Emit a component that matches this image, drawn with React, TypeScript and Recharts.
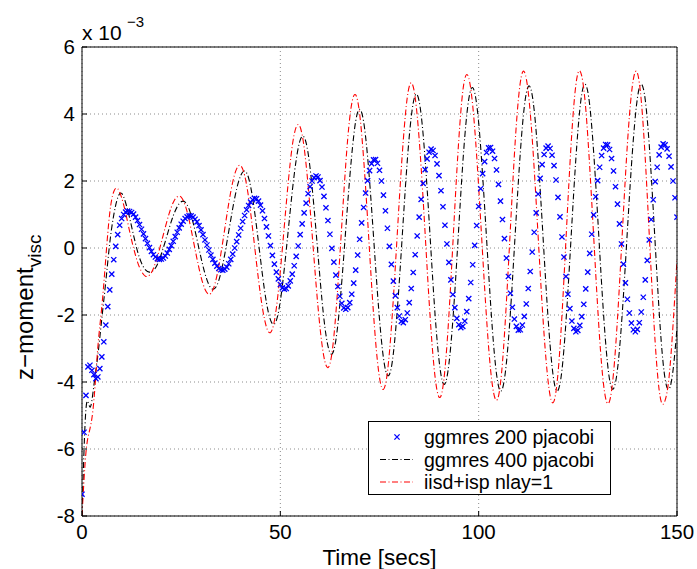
import React from "react";
import { ComposedChart, Line, XAxis, YAxis, CartesianGrid } from "recharts";

// all values are in units of 1e-3 (the axis carries the "x 10^-3" factor)
const xTicks = [0, 50, 100, 150];
const yTicks = [-8, -6, -4, -2, 0, 2, 4, 6];
const seriesNames = ["ggmres 200 pjacobi", "ggmres 400 pjacobi", "iisd+isp nlay=1"];

// ggmres 200 pjacobi, one sample every 0.5 s from t = 0
const blueStep = 0.5;
const blueValues = [
    -7.35, -5.5, -4.4, -3.55, -3.5, -3.65, -3.78, -3.9, -3.85, -3.6, -3.25, -2.8, -2.3, -1.75, -1.25, -0.78, -0.35, 0.05, 0.4, 0.68,
    0.88, 1.0, 1.07, 1.1, 1.09, 1.06, 1.01, 0.92, 0.82, 0.7, 0.56, 0.42, 0.28, 0.14, 0.01, -0.1, -0.2, -0.27, -0.32, -0.34,
    -0.33, -0.3, -0.24, -0.15, -0.04, 0.07, 0.2, 0.34, 0.47, 0.6, 0.71, 0.8, 0.88, 0.93, 0.96, 0.96, 0.92, 0.86, 0.78, 0.67,
    0.54, 0.4, 0.24, 0.09, -0.06, -0.21, -0.34, -0.45, -0.54, -0.61, -0.65, -0.66, -0.63, -0.57, -0.47, -0.34, -0.18, 0.0, 0.19, 0.39,
    0.59, 0.79, 0.97, 1.14, 1.27, 1.37, 1.44, 1.48, 1.47, 1.4, 1.28, 1.11, 0.88, 0.63, 0.36, 0.07, -0.22, -0.48, -0.72, -0.92,
    -1.09, -1.19, -1.23, -1.21, -1.13, -0.98, -0.78, -0.53, -0.25, 0.06, 0.4, 0.72, 1.05, 1.34, 1.62, 1.83, 2.0, 2.1, 2.15, 2.12,
    2.01, 1.82, 1.54, 1.2, 0.82, 0.41, -0.01, -0.42, -0.81, -1.15, -1.44, -1.65, -1.79, -1.83, -1.78, -1.63, -1.38, -1.05, -0.66, -0.21,
    0.26, 0.75, 1.21, 1.64, 2.01, 2.31, 2.52, 2.63, 2.64, 2.53, 2.32, 2.0, 1.58, 1.11, 0.59, 0.05, -0.49, -0.99, -1.42, -1.78,
    -2.03, -2.19, -2.23, -2.14, -1.94, -1.63, -1.21, -0.73, -0.2, 0.36, 0.92, 1.45, 1.93, 2.34, 2.66, 2.86, 2.95, 2.91, 2.76, 2.51,
    2.16, 1.71, 1.23, 0.68, 0.12, -0.43, -0.95, -1.39, -1.78, -2.1, -2.29, -2.38, -2.34, -2.18, -1.9, -1.51, -1.03, -0.5, 0.08, 0.67,
    1.24, 1.77, 2.22, 2.58, 2.85, 2.99, 3.0, 2.89, 2.67, 2.33, 1.9, 1.4, 0.85, 0.28, -0.3, -0.85, -1.35, -1.77, -2.12, -2.34,
    -2.45, -2.44, -2.3, -2.04, -1.67, -1.21, -0.7, -0.12, 0.47, 1.05, 1.61, 2.08, 2.49, 2.79, 2.98, 3.04, 2.97, 2.77, 2.46, 2.03,
    1.51, 0.93, 0.33, -0.27, -0.85, -1.38, -1.81, -2.18, -2.4, -2.5, -2.46, -2.31, -2.05, -1.68, -1.22, -0.72, -0.16, 0.41, 0.99, 1.53,
    2.01, 2.41, 2.76, 2.98, 3.09, 3.08, 2.94, 2.67, 2.3, 1.83, 1.31, 0.72, 0.12, -0.48, -1.04, -1.53, -1.94, -2.24, -2.44, -2.5,
    -2.43, -2.23, -1.91, -1.47, -0.95, -0.37, 0.24, 0.85, 1.44, 1.98, 2.41, 2.78, 3.01, 3.11, 3.08, 2.96, 2.74, 2.42, 2.0, 1.5,
    0.92,
];

// the two line series, one sample every second from t = 0
const lineStep = 1;
const blackValues = [
    -8.0, -4.8, -4.75, -4.1, -3.2, -2.1, -1.0, 0.15, 0.98, 1.5,
    1.63, 1.35, 0.9, 0.38, -0.1, -0.45, -0.65, -0.72, -0.67, -0.49,
    -0.18, 0.2, 0.6, 0.96, 1.23, 1.38, 1.37, 1.16, 0.76, 0.25,
    -0.29, -0.76, -1.1, -1.23, -1.12, -0.75, -0.18, 0.5, 1.18, 1.77,
    2.16, 2.3, 2.09, 1.5, 0.64, -0.33, -1.25, -1.93, -2.26, -2.16,
    -1.58, -0.62, 0.53, 1.68, 2.63, 3.22, 3.31, 2.83, 1.83, 0.51,
    -0.9, -2.13, -2.92, -3.17, -2.75, -1.69, -0.23, 1.36, 2.77, 3.79,
    4.14, 3.77, 2.72, 1.19, -0.53, -2.12, -3.29, -3.8, -3.56, -2.55,
    -0.99, 0.85, 2.6, 3.91, 4.56, 4.38, 3.39, 1.78, -0.13, -1.97,
    -3.34, -4.03, -3.86, -2.88, -1.28, 0.65, 2.53, 3.97, 4.72, 4.64,
    3.74, 2.16, 0.26, -1.65, -3.21, -4.12, -4.2, -3.42, -1.93, 0.0,
    1.96, 3.61, 4.62, 4.8, 4.11, 2.67, 0.79, -1.19, -2.89, -3.99,
    -4.25, -3.64, -2.21, -0.3, 1.73, 3.47, 4.6, 4.87, 4.26, 2.84,
    0.94, -1.08, -2.81, -3.93, -4.2, -3.62, -2.28, -0.46, 1.52, 3.25,
    4.46, 4.89, 4.42, 3.08, 1.17, -0.91, -2.75, -3.91, -4.21, -3.65,
    -2.4,
];
const redValues = [
    -8.0, -6.1, -5.4, -4.55, -2.95, -1.75, -0.3, 1.05, 1.68, 1.77,
    1.5, 1.05, 0.5, 0.0, -0.42, -0.7, -0.84, -0.81, -0.61, -0.26,
    0.17, 0.62, 1.04, 1.36, 1.53, 1.52, 1.28, 0.84, 0.26, -0.33,
    -0.86, -1.23, -1.38, -1.25, -0.83, -0.18, 0.58, 1.34, 1.97, 2.37,
    2.46, 2.17, 1.51, 0.58, -0.45, -1.4, -2.12, -2.5, -2.42, -1.79,
    -0.69, 0.65, 1.97, 3.04, 3.61, 3.61, 3.0, 1.87, 0.44, -1.07,
    -2.37, -3.26, -3.57, -3.15, -1.95, -0.24, 1.63, 3.28, 4.31, 4.57,
    4.0, 2.66, 0.86, -1.08, -2.76, -3.87, -4.22, -3.7, -2.37, -0.54,
    1.45, 3.22, 4.49, 4.93, 4.49, 3.25, 1.45, -0.59, -2.47, -3.84,
    -4.45, -4.14, -2.9, -0.97, 1.24, 3.25, 4.68, 5.18, 4.76, 3.57,
    1.82, -0.19, -2.12, -3.63, -4.44, -4.42, -3.42, -1.6, 0.59, 2.77,
    4.42, 5.23, 5.06, 4.04, 2.36, 0.33, -1.7, -3.36, -4.4, -4.57,
    -3.74, -2.01, 0.23, 2.48, 4.27, 5.21, 5.13, 4.15, 2.41, 0.33,
    -1.77, -3.49, -4.48, -4.57, -3.73, -2.1, -0.01, 2.14, 3.94, 5.04,
    5.23, 4.39, 2.66, 0.41, -1.84, -3.64, -4.58, -4.55, -3.85, -2.3,
    -0.35,
];

const toPoints = (vals: number[], step: number) => vals.map((v, i) => ({ t: i * step, v }));
const bluePts = toPoints(blueValues, blueStep);
const blackPts = toPoints(blackValues, lineStep);
const redPts = toPoints(redValues, lineStep);

const FONT = "'Liberation Sans', Arial, Helvetica, sans-serif";
const BLUE = "#0000ff";
const DASHDOT = "6 2.5 1 2.5";

const XMark = (props: any) => {
    const { cx, cy, index } = props;
    if (cx == null || cy == null) return <g key={`bx-${index}`} />;
    const r = 2.6;
    return (
        <path
            key={`bx-${index}`}
            d={`M${cx - r},${cy - r}L${cx + r},${cy + r}M${cx + r},${cy - r}L${cx - r},${cy + r}`}
            stroke={BLUE}
            strokeWidth={1.3}
            fill="none"
        />
    );
};

const axisCommon = {
    axisLine: { stroke: "#000", strokeWidth: 1 },
    tickLine: { stroke: "#000", strokeWidth: 1 },
    tickSize: -5,
};

export default function App() {
    const legendRows = [
        { name: seriesNames[0], kind: "x" },
        { name: seriesNames[1], kind: "black" },
        { name: seriesNames[2], kind: "red" },
    ];

    return (
        <div style={{ position: "absolute", left: 0, top: 0, width: 697, height: 569, background: "#fff", fontFamily: FONT }}>
            <ComposedChart width={697} height={569} margin={{ top: 46, right: 19, bottom: 52, left: 81 }}>
                <CartesianGrid stroke="#8c8c8c" strokeDasharray="1 3" />
                <XAxis
                    dataKey="t"
                    type="number"
                    domain={[0, 150]}
                    ticks={xTicks}
                    interval={0}
                    height={1}
                    tickMargin={13}
                    tick={{ fill: "#000", fontSize: 20.5, fontFamily: FONT }}
                    allowDataOverflow
                    {...axisCommon}
                />
                <XAxis
                    xAxisId="top"
                    orientation="top"
                    dataKey="t"
                    type="number"
                    domain={[0, 150]}
                    ticks={xTicks}
                    interval={0}
                    height={1}
                    tick={false}
                    {...axisCommon}
                />
                <YAxis
                    type="number"
                    domain={[-8, 6]}
                    ticks={yTicks}
                    interval={0}
                    width={1}
                    tickMargin={12}
                    tick={{ fill: "#000", fontSize: 20.5, fontFamily: FONT }}
                    allowDataOverflow
                    {...axisCommon}
                />
                <YAxis
                    yAxisId="right"
                    orientation="right"
                    type="number"
                    domain={[-8, 6]}
                    ticks={yTicks}
                    interval={0}
                    width={1}
                    tick={false}
                    {...axisCommon}
                />
                <Line
                    data={bluePts}
                    dataKey="v"
                    stroke="none"
                    dot={XMark}
                    activeDot={false}
                    isAnimationActive={false}
                />
                <Line
                    data={blackPts}
                    dataKey="v"
                    type="natural"
                    stroke="#000"
                    strokeWidth={1.1}
                    strokeDasharray={DASHDOT}
                    dot={false}
                    activeDot={false}
                    isAnimationActive={false}
                />
                <Line
                    data={redPts}
                    dataKey="v"
                    type="natural"
                    stroke="#ff0000"
                    strokeWidth={1.1}
                    strokeDasharray={DASHDOT}
                    dot={false}
                    activeDot={false}
                    isAnimationActive={false}
                />
            </ComposedChart>

            {/* labels, exponent and legend drawn on top like the matlab figure */}
            <svg width={697} height={569} style={{ position: "absolute", left: 0, top: 0, pointerEvents: "none" }}>
                <g fontFamily={FONT} fill="#000">
                    <text x={82} y={40} fontSize={21}>x 10</text>
                    <text x={127} y={27} fontSize={15}>−3</text>
                    <text x={379.5} y={565} fontSize={22.5} textAnchor="middle">Time [secs]</text>
                    <text transform="translate(33,380) rotate(-90)" fontSize={24}>
                        z−moment<tspan dy={8} fontSize={19}>visc</tspan>
                    </text>
                </g>
                <rect x={368.5} y={421.5} width={242} height={73} fill="#fff" stroke="#000" strokeWidth={1} />
                {legendRows.map((row, i) => {
                    const cy = 437 + i * 22.5;
                    return (
                        <g key={row.name}>
                            {row.kind === "x" ? (
                                <path d={`M${397 - 2.6},${cy - 2.6}L${397 + 2.6},${cy + 2.6}M${397 + 2.6},${cy - 2.6}L${397 - 2.6},${cy + 2.6}`} stroke={BLUE} strokeWidth={1.3} />
                            ) : (
                                <line x1={380} x2={413} y1={cy} y2={cy} stroke={row.kind === "red" ? "#ff0000" : "#000"} strokeWidth={1.1} strokeDasharray={DASHDOT} />
                            )}
                            <text x={424} y={cy + 7} fontSize={19.5} fontFamily={FONT} fill="#000">{row.name}</text>
                        </g>
                    );
                })}
            </svg>
        </div>
    );
}
